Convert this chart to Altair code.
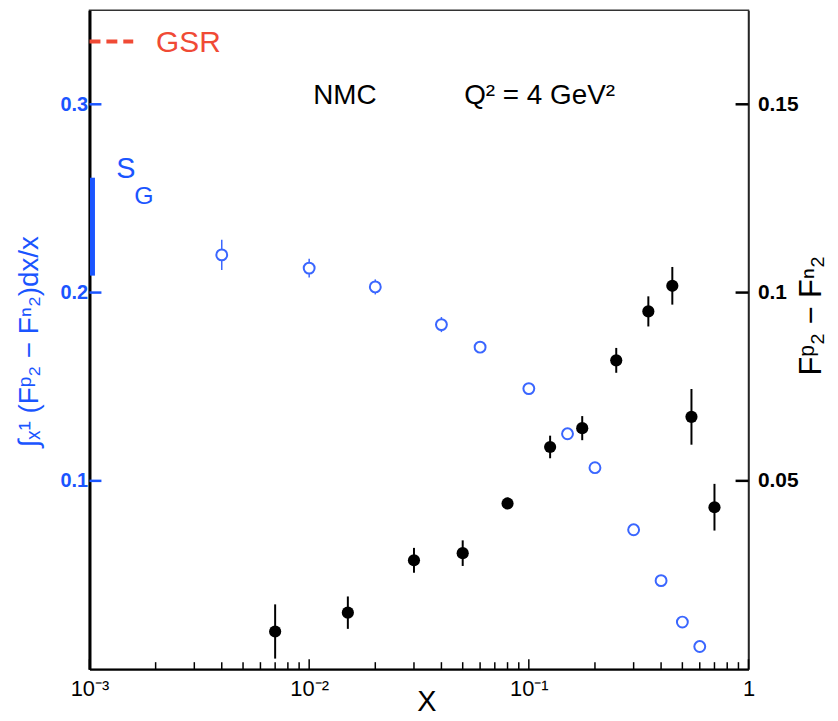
import altair as alt
import pandas as pd

BLUE = "#1a55ff"
CIRC = "#3a66ff"
RED = "#f04a35"
FONT = "Liberation Sans"

# Integral of (F2p - F2n)/x from x to 1 (left axis, open blue circles)
blue_x = [0.004, 0.01, 0.02, 0.04, 0.06, 0.1, 0.15, 0.2, 0.3, 0.4, 0.5, 0.6]
blue_y = [0.220, 0.213, 0.203, 0.183, 0.171, 0.149, 0.125, 0.107, 0.074, 0.047, 0.025, 0.012]
blue_err = [0.008, 0.005, 0.004, 0.004, 0.002, 0.002, 0.002, 0.002, 0.002, 0.002, 0.002, 0.002]

# F2p - F2n (right axis, filled black circles)
blk_x = [0.007, 0.015, 0.03, 0.05, 0.08, 0.125, 0.175, 0.25, 0.35, 0.45, 0.55, 0.7]
blk_y = [0.0100, 0.0150, 0.0289, 0.0308, 0.0440, 0.0590, 0.0640, 0.0820, 0.0950, 0.1018, 0.0670, 0.0430]
blk_err = [0.0072, 0.0043, 0.0033, 0.0034, 0.0015, 0.0030, 0.0032, 0.0033, 0.0040, 0.0050, 0.0074, 0.0062]

# Gottfried sum rule and NMC S_G
sg_val = [0.235]
sg_err = [0.026]
gsr_val = [1 / 3]

x_major = [0.001, 0.01, 0.1, 1]
x_major_labels = ["10⁻³", "10⁻²", "10⁻¹", "1"]
x_minor = [0.002, 0.003, 0.004, 0.005, 0.006, 0.007, 0.008, 0.009,
           0.02, 0.03, 0.04, 0.05, 0.06, 0.07, 0.08, 0.09,
           0.2, 0.3, 0.4, 0.5, 0.6, 0.7, 0.8, 0.9]
left_ticks = [0.1, 0.2, 0.3]
right_ticks = [0.05, 0.1, 0.15]
left_domain = [0, 0.35]
right_domain = [0, 0.175]

W = 663
H = 663

label_expr = " : ".join(
    f"datum.value == {v} ? '{l}'" for v, l in zip(x_major[:-1], x_major_labels[:-1])
) + f" : '{x_major_labels[-1]}'"

xscale = alt.Scale(type="log", domain=[0.001, 1], nice=False)
lscale = alt.Scale(domain=left_domain, nice=False, zero=False)
rscale = alt.Scale(domain=right_domain, nice=False, zero=False)

blue_df = pd.DataFrame({"x": blue_x, "y": blue_y, "e": blue_err})
blk_df = pd.DataFrame({"x": blk_x, "y": blk_y, "e": blk_err})

x_axis = alt.Axis(
    values=x_major, labelExpr=label_expr, ticks=False, grid=False,
    domainColor="black", domainWidth=2, labelFont=FONT, labelFontSize=22,
    labelColor="black", labelPadding=10, labelFlush=False,
    title="X", titleFont=FONT, titleFontSize=29, titleFontWeight="normal",
    titleX=339, titleY=33, titleBaseline="middle", titleColor="black",
)
left_axis = alt.Axis(
    values=left_ticks, format=".1f", ticks=False, grid=False,
    domainColor="black", domainWidth=3, labelFont=FONT, labelFontSize=20,
    labelFontWeight="bold", labelColor=BLUE, labelPadding=2,
    title="∫ₓ¹ (Fᵖ₂ − Fⁿ₂)dx/x", titleFont=FONT, titleFontSize=28,
    titleFontWeight="normal", titleColor=BLUE, titleAngle=270,
    titleX=-60, titleY=333, titleBaseline="middle", titleAlign="center",
)
right_axis = alt.Axis(
    orient="right", values=right_ticks, format="~g", ticks=False, grid=False,
    domainColor="#222", domainWidth=1.5, labelFont=FONT, labelFontSize=21,
    labelFontWeight="bold", labelColor="black", labelPadding=9,
    title="Fᵖ₂  −  Fⁿ₂", titleFont=FONT, titleFontSize=31,
    titleFontWeight="normal", titleColor="black", titleAngle=270,
    titleX=63, titleY=307, titleBaseline="middle", titleAlign="center",
)

X = lambda f: alt.X(f, scale=xscale, axis=x_axis)
YL = lambda f: alt.Y(f, scale=lscale, axis=left_axis)
YR = lambda f: alt.Y(f, scale=rscale, axis=right_axis)

# ---- left-scale group ----
blue_err_layer = alt.Chart(blue_df).transform_calculate(
    lo="datum.y - datum.e", hi="datum.y + datum.e"
).mark_rule(color=CIRC, strokeWidth=1.5).encode(
    x=X("x:Q"), y=YL("lo:Q"), y2="hi:Q",
)
blue_pts = alt.Chart(blue_df).mark_circle(
    color="white", stroke=CIRC, strokeWidth=2, size=120, opacity=1
).encode(x=X("x:Q"), y=YL("y:Q"))

sg_df = pd.DataFrame({"v": sg_val, "e": sg_err})
sg_bar = alt.Chart(sg_df).transform_calculate(
    lo="datum.v - datum.e", hi="datum.v + datum.e"
).mark_rule(color=BLUE, strokeWidth=5).encode(
    x=alt.value(3), y=YL("lo:Q"), y2="hi:Q",
)
gsr_df = pd.DataFrame({"v": gsr_val})
gsr_line = alt.Chart(gsr_df).mark_rule(
    color=RED, strokeWidth=4, strokeDash=[11, 6]
).encode(x=alt.value(0), x2=alt.value(44), y=YL("v:Q"))

lt_df = pd.DataFrame({"v": left_ticks})
left_tick_layer = alt.Chart(lt_df).mark_rule(color=BLUE, strokeWidth=2.5).encode(
    x=alt.value(0), x2=alt.value(12), y=YL("v:Q"),
)
xmaj_df = pd.DataFrame({"v": x_major})
xmin_df = pd.DataFrame({"v": x_minor})
xmaj_layer = alt.Chart(xmaj_df).mark_rule(color="black", strokeWidth=1.5).encode(
    x=X("v:Q"), y=alt.value(H), y2=alt.value(H - 10),
)
xmin_layer = alt.Chart(xmin_df).mark_rule(color="black", strokeWidth=1.5).encode(
    x=X("v:Q"), y=alt.value(H), y2=alt.value(H - 7),
)


def label(text, x, y, size, color):
    return alt.Chart(pd.DataFrame({"t": [text]})).mark_text(
        align="left", baseline="alphabetic", font=FONT, fontSize=size, color=color
    ).encode(x=alt.value(x), y=alt.value(y), text="t:N")


texts = [
    label("NMC", 225, 94, 28, "black"),
    label("Q² = 4 GeV²", 377, 94, 28, "black"),
    label("GSR", 67, 42, 30, RED),
    label("S", 27, 169, 29, BLUE),
    label("G", 45, 195, 25, BLUE),
]

left_group = alt.layer(
    blue_err_layer, blue_pts, sg_bar, gsr_line, left_tick_layer,
    xmaj_layer, xmin_layer, *texts
)

# ---- right-scale group ----
blk_err_layer = alt.Chart(blk_df).transform_calculate(
    lo="datum.y - datum.e", hi="datum.y + datum.e"
).mark_rule(color="black", strokeWidth=2).encode(
    x=X("x:Q"), y=YR("lo:Q"), y2="hi:Q",
)
blk_pts = alt.Chart(blk_df).mark_circle(color="black", size=150, opacity=1).encode(
    x=X("x:Q"), y=YR("y:Q"),
)
rt_df = pd.DataFrame({"v": right_ticks})
right_tick_layer = alt.Chart(rt_df).mark_rule(color="black", strokeWidth=2.5).encode(
    x=alt.value(W - 13), x2=alt.value(W), y=YR("v:Q"),
)
right_group = alt.layer(blk_err_layer, blk_pts, right_tick_layer)

chart = alt.layer(left_group, right_group).resolve_scale(y="independent").properties(
    width=W, height=H,
    autosize=alt.AutoSizeParams(type="none"),
    padding={"left": 82, "top": 0, "right": 82, "bottom": 48},
    background="white",
).configure_view(stroke="#333", strokeWidth=1.5)

chart.save("out.html", embed_options={"renderer": "svg", "actions": False})
